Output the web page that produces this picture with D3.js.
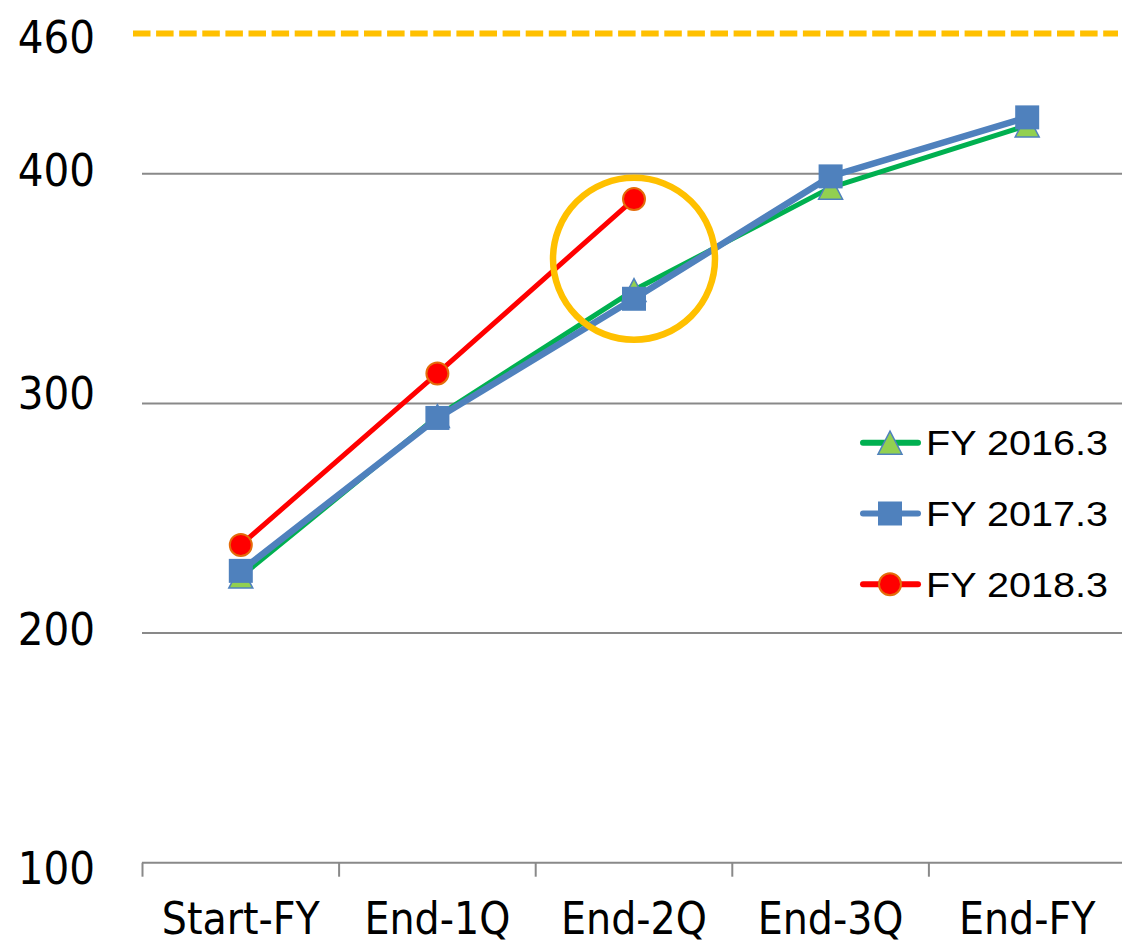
<!DOCTYPE html>
<html><head><meta charset="utf-8">
<script src="https://cdn.jsdelivr.net/npm/d3@7/dist/d3.min.js"></script>
<style>html,body{margin:0;padding:0;background:#fff;}svg{display:block;}</style>
</head><body>
<script>
const categories = ["Start-FY", "End-1Q", "End-2Q", "End-3Q", "End-FY"];
const fy2016 = [224.6, 294.5, 349.4, 394.0, 421.1];
const fy2017 = [227.1, 293.7, 345.6, 398.9, 424.6];
const fy2018 = [238.4, 313.1, 389.0];
const seriesNames = ["FY 2016.3", "FY 2017.3", "FY 2018.3"];
const yTicks = [100, 200, 300, 400, 460];
const targetValue = 460;
const highlightCategory = "End-2Q";
const highlightValue = 363;

const W = 1122, H = 940;
const svg = d3.select("body").append("svg").attr("width", W).attr("height", H);

const x = d3.scaleBand().domain(categories).range([142.5, 1125.5]);
const y = d3.scaleLinear().domain([100, 460]).range([862.7, 36.1]);
const cx = d => x(d) + x.bandwidth() / 2;

// gridlines
svg.append("g").selectAll("line").data([200, 300, 400]).join("line")
  .attr("x1", 142).attr("x2", W).attr("y1", d => y(d)).attr("y2", d => y(d))
  .attr("stroke", "#898989").attr("stroke-width", 2);

// target dashed line
svg.append("line").attr("x1", 133).attr("x2", 1118)
  .attr("y1", y(targetValue) - 2.5).attr("y2", y(targetValue) - 2.5)
  .attr("stroke", "#FFC000").attr("stroke-width", 6).attr("stroke-dasharray", "17.5 5.6");

// x axis
const xAxis = svg.append("g").attr("transform", `translate(0,${y(100)})`)
  .call(d3.axisBottom(x).tickSize(0).tickFormat(""));
xAxis.select(".domain").remove();
xAxis.append("line").attr("x1", 142).attr("x2", W).attr("stroke", "#898989").attr("stroke-width", 2);
xAxis.selectAll("line.tk").data(categories).join("line").attr("class", "tk")
  .attr("x1", d => x(d)).attr("x2", d => x(d)).attr("y1", 0).attr("y2", 14)
  .attr("stroke", "#898989").attr("stroke-width", 2);
svg.append("g").selectAll("text").data(categories).join("text")
  .attr("x", d => cx(d)).attr("y", 934).attr("text-anchor", "middle")
  .attr("font-family", "DejaVu Sans Condensed").attr("font-stretch", "semi-condensed")
  .attr("font-size", 44).attr("fill", "#000")
  .text(d => d);

// y labels (hand-placed text boxes in the original; small vertical nudges)
const labelNudge = {100: 5, 200: -4.5, 300: -10.5, 400: -4.5, 460: 0.4};
svg.append("g").selectAll("text").data(yTicks).join("text")
  .attr("x", 95).attr("y", d => y(d) + labelNudge[d]).attr("dy", "0.36em").attr("text-anchor", "end")
  .attr("font-family", "DejaVu Sans Condensed").attr("font-stretch", "semi-condensed")
  .attr("font-size", 45).attr("fill", "#000")
  .text(d => d);

const line = d3.line().x((d, i) => cx(categories[i])).y(d => y(d));

const series = [
  {name: seriesNames[0], data: fy2016, color: "#00B050", width: 5, marker: "tri"},
  {name: seriesNames[1], data: fy2017, color: "#4F81BD", width: 6.5, marker: "sq"},
  {name: seriesNames[2], data: fy2018, color: "#FF0000", width: 5, marker: "circ"}
];

function drawMarker(g, type, px, py) {
  if (type === "tri") {
    g.append("path").attr("d", `M${px},${py - 11.5}L${px + 12},${py + 11.5}L${px - 12},${py + 11.5}Z`)
      .attr("fill", "#92D050").attr("stroke", "#4F81BD").attr("stroke-width", 1.5);
  } else if (type === "sq") {
    g.append("rect").attr("x", px - 12).attr("y", py - 12).attr("width", 24).attr("height", 24)
      .attr("fill", "#4F81BD");
  } else {
    g.append("circle").attr("cx", px).attr("cy", py).attr("r", 11)
      .attr("fill", "#FF0000").attr("stroke", "#E46C0A").attr("stroke-width", 2);
  }
}

series.forEach(s => {
  const g = svg.append("g");
  g.append("path").datum(s.data).attr("d", line).attr("fill", "none")
    .attr("stroke", s.color).attr("stroke-width", s.width).attr("stroke-linejoin", "round");
  s.data.forEach((v, i) => drawMarker(g, s.marker, cx(categories[i]), y(v)));
});

// highlight circle
svg.append("circle").attr("cx", cx(highlightCategory)).attr("cy", y(highlightValue))
  .attr("r", 81).attr("fill", "none").attr("stroke", "#FFC000").attr("stroke-width", 6.5);

// legend
const leg = svg.append("g");
series.forEach((s, i) => {
  const ly = 442.7 + i * 70.8;
  leg.append("line").attr("x1", 863).attr("x2", 918).attr("y1", ly).attr("y2", ly)
    .attr("stroke", s.color).attr("stroke-width", 6).attr("stroke-linecap", "round");
  drawMarker(leg, s.marker, 890, ly);
  leg.append("text").attr("x", 926).attr("y", ly + 12.5)
    .attr("font-family", "Liberation Sans, Arial").attr("font-size", 34.5)
    .attr("textLength", 182).attr("lengthAdjust", "spacingAndGlyphs")
    .attr("fill", "#000").text(s.name);
});
</script>
</body></html>
